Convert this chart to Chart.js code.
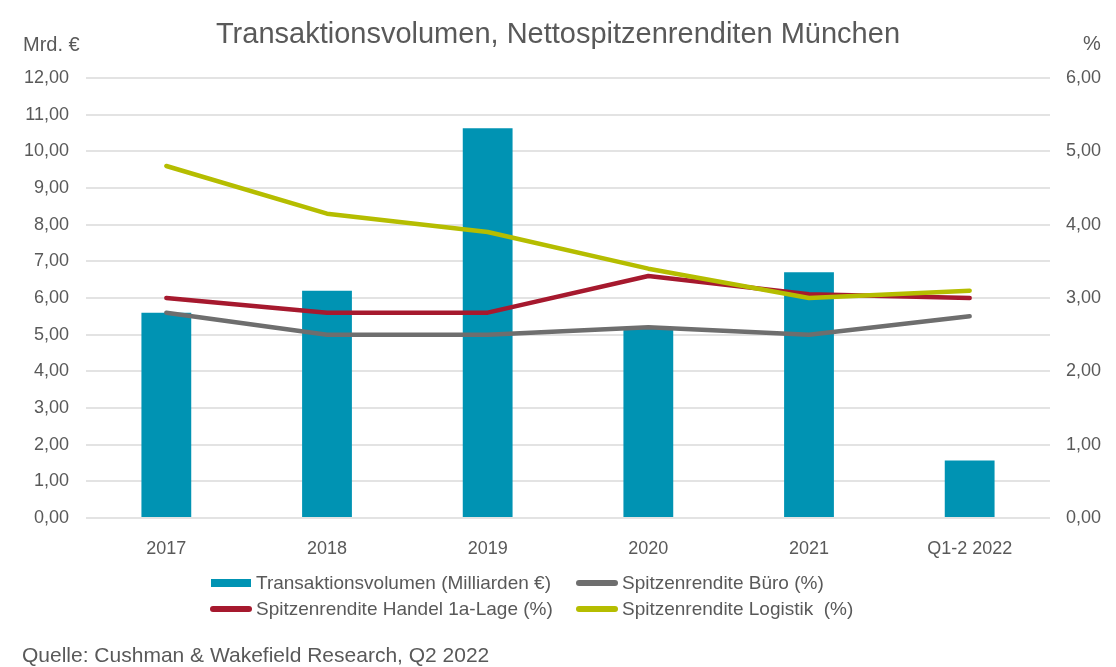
<!DOCTYPE html>
<html><head><meta charset="utf-8">
<script src="https://cdn.jsdelivr.net/npm/chart.js@4.4.1/dist/chart.umd.min.js"></script>
<style>
html,body{margin:0;padding:0;background:#fff;}
#wrap{position:relative;width:1116px;height:667px;font-family:"Liberation Sans",Arial,sans-serif;color:#595959;}
canvas{position:absolute;left:0;top:0;}
.t{position:absolute;white-space:pre;line-height:1;}
.sw{position:absolute;}
</style></head>
<body>
<div id="wrap">
<canvas id="c" width="1116" height="667"></canvas>
<div class="t" style="left:0;width:1116px;text-align:center;top:19px;font-size:29px;">Transaktionsvolumen, Nettospitzenrenditen München</div>
<div class="t" style="left:23px;top:34px;font-size:20px;">Mrd. €</div>
<div class="t" style="left:1083px;top:33px;font-size:20px;">%</div>
<div id="legend"></div>
<div class="t" style="left:22px;top:644px;font-size:21px;">Quelle: Cushman &amp; Wakefield Research, Q2 2022</div>
</div>
<script>
const categories = ["2017","2018","2019","2020","2021","Q1-2 2022"];
const volumen = [5.60, 6.20, 10.63, 5.20, 6.70, 1.57];
const bueroRendite = [2.80, 2.50, 2.50, 2.60, 2.50, 2.75];
const handelRendite = [3.00, 2.80, 2.80, 3.30, 3.05, 3.00];
const logistikRendite = [4.80, 4.15, 3.90, 3.40, 3.00, 3.10];
const seriesNames = ["Transaktionsvolumen (Milliarden €)","Spitzenrendite Büro (%)","Spitzenrendite Handel 1a-Lage (%)","Spitzenrendite Logistik  (%)"];
const colors = ["#0093B3","#6E6E6E","#A6192E","#B5BD00"];

const fmt = v => v.toFixed(2).replace('.', ',');
const tickFont = {family:"'Liberation Sans', Arial, sans-serif", size:18};

new Chart(document.getElementById('c'), {
  data: {
    labels: categories,
    datasets: [
      {type:'bar', label:seriesNames[0], data:volumen, backgroundColor:colors[0], yAxisID:'y', order:10, barPercentage:0.31, categoryPercentage:1},
      {type:'line', label:seriesNames[1], data:bueroRendite, borderColor:colors[1], borderWidth:4.5, pointRadius:0, yAxisID:'y1', order:4, borderCapStyle:'round', borderJoinStyle:'round', tension:0},
      {type:'line', label:seriesNames[2], data:handelRendite, borderColor:colors[2], borderWidth:4.5, pointRadius:0, yAxisID:'y1', order:3, borderCapStyle:'round', borderJoinStyle:'round', tension:0},
      {type:'line', label:seriesNames[3], data:logistikRendite, borderColor:colors[3], borderWidth:4.5, pointRadius:0, yAxisID:'y1', order:2, borderCapStyle:'round', borderJoinStyle:'round', tension:0}
    ]
  },
  options: {
    responsive:false, animation:false,
    layout:{padding:{top:78,left:0,right:0,bottom:0}},
    plugins:{legend:{display:false}, tooltip:{enabled:false}, title:{display:false}},
    scales:{
      x:{
        grid:{display:false}, border:{display:false},
        ticks:{color:'#595959', font:tickFont, padding:12, maxRotation:0},
        afterFit(s){ s.height = 149; }
      },
      y:{
        position:'left', min:0, max:12,
        ticks:{stepSize:1, color:'#595959', font:tickFont, padding:17, callback:v=>fmt(v)},
        grid:{color:'#E3E3E3', lineWidth:2, drawTicks:false}, border:{display:false},
        afterFit(s){ s.width = 86; }
      },
      y1:{
        position:'right', min:0, max:6,
        ticks:{stepSize:1, color:'#595959', font:tickFont, padding:16, callback:v=>fmt(v)},
        grid:{display:false, drawTicks:false}, border:{display:false},
        afterFit(s){ s.width = 66; }
      }
    }
  }
});

// HTML legend
const lg = document.getElementById('legend');
const pos = [[211,583],[577,583],[211,609],[577,609]];
[0,1,2,3].forEach((i,k)=>{
  const [x,y] = pos[k];
  const sw = document.createElement('div');
  sw.className='sw';
  if(i===0){
    sw.style.left=x+'px'; sw.style.top=(y-4)+'px'; sw.style.width='40px'; sw.style.height='8px';
  } else {
    sw.style.left=(x-1)+'px'; sw.style.top=(y-3)+'px'; sw.style.width='42px'; sw.style.height='6px';
    sw.style.borderRadius='3px';
  }
  sw.style.background=colors[i];
  lg.appendChild(sw);
  const t = document.createElement('div');
  t.className='t';
  t.style.left=(x+45)+'px'; t.style.top=(y-10)+'px'; t.style.fontSize='19px';
  t.textContent=seriesNames[i];
  lg.appendChild(t);
});
</script>
</body></html>
